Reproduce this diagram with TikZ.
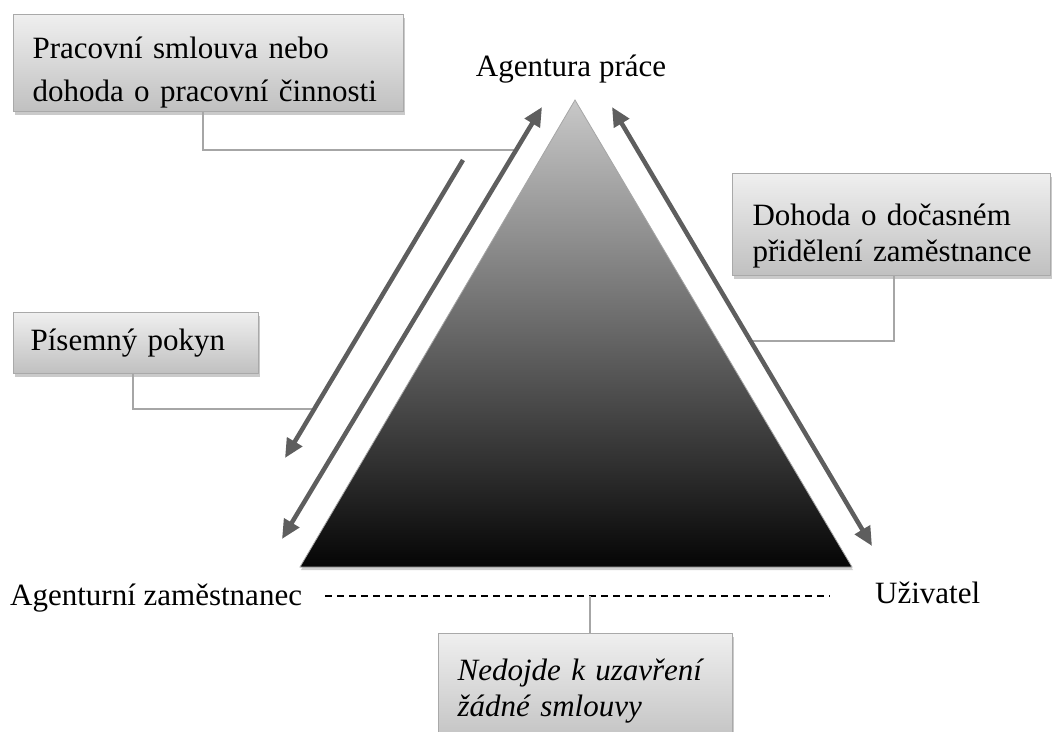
\documentclass[tikz,border=0pt]{standalone}
\usepackage{fontspec}
\setmainfont{Liberation Serif}
\usetikzlibrary{arrows.meta,shadows}
\definecolor{arrowgray}{HTML}{5E5E5E}
\definecolor{linegray}{HTML}{A6A6A6}
\definecolor{boxtop}{HTML}{EFEFEF}
\definecolor{boxbot}{HTML}{C0C0C0}
\definecolor{boxedge}{HTML}{A9A9A9}
\definecolor{tritop}{HTML}{C8C8C8}
\definecolor{tribot}{HTML}{050505}
\begin{document}
\begin{tikzpicture}[x=1pt,y=1pt,
  callout/.style={draw=boxedge, line width=1.2pt, top color=boxtop, bottom color=boxbot,
    anchor=north west, align=left, inner ysep=0pt,
    font=\fontsize{31}{36}\selectfont,
    drop shadow={shadow xshift=1pt, shadow yshift=-3pt, opacity=0.35, fill=black!60}},
  lbl/.style={font=\fontsize{31}{37}\selectfont, inner sep=0pt},
  conn/.style={draw=linegray, line width=1.6pt},
  arr/.style={draw=arrowgray, line width=4.5pt, arrows={-Triangle[length=19pt,width=17pt]}},
  darr/.style={draw=arrowgray, line width=4.5pt, arrows={Triangle[length=19pt,width=17pt]-Triangle[length=19pt,width=17pt]}},
  dashline/.style={draw=black, line width=1.6pt, dash pattern=on 7pt off 5pt}
]
\path[use as bounding box] (0,0) rectangle (1056,-731);
\clip (0,0) rectangle (1056,-731);

% triangle
\coordinate (apex) at (575,-100);
\coordinate (bl) at (300,-567);
\coordinate (br) at (852,-567);
\shade[top color=tritop, bottom color=tribot,
  drop shadow={shadow xshift=1pt, shadow yshift=-3pt, opacity=0.3, fill=black!60}]
  (apex) -- (bl) -- (br) -- cycle;
\draw[gray!70, line width=0.8pt] (apex) -- (bl) -- (br) -- cycle;

% labels
\node[lbl, anchor=base] (agp) at (571,-76) {Agentura práce};
\node[lbl, anchor=base west] (az) at (10,-605) {Agenturní zaměstnanec};
\node[lbl, anchor=base west] (uz) at (875,-603) {Uživatel};

% dashed line
\coordinate (dL) at (325,-596);
\coordinate (dR) at (830,-596);
\coordinate (dm) at (590,-596);
\draw[dashline] (dL) -- (dR);

% callouts
\node[callout, text width=352pt, inner xsep=19pt, minimum height=97pt,
  font=\fontsize{31}{43}\selectfont] (b1) at (13,-14)
  {\rule{0pt}{40pt}\mbox{Pracovní smlouva nebo}\\\mbox{dohoda o pracovní činnosti}};
\node[callout, text width=278pt, inner xsep=20pt, minimum height=102pt] (b2) at (732,-173)
  {\rule{0pt}{44pt}\mbox{Dohoda o dočasném}\\\mbox{přidělení zaměstnance}};
\node[callout, text width=211pt, inner xsep=17pt, minimum height=61pt] (b3) at (13,-312)
  {\mbox{Písemný pokyn}};
\node[callout, text width=256pt, inner xsep=19pt, minimum height=114pt,
  font=\fontsize{31}{36}\selectfont\itshape] (b4) at (438,-633)
  {\mbox{Nedojde k uzavření}\\\mbox{žádné smlouvy}};

% connector end points
\coordinate (c1) at (516,-150);
\coordinate (c2) at (748,-341);
\coordinate (c3) at (314,-409);
\draw[conn] ([xshift=190pt]b1.south west) |- (c1);
\draw[conn] ([xshift=162pt]b2.south west) |- (c2);
\draw[conn] ([xshift=120pt]b3.south west) |- (c3);
\draw[conn] (dm) -- (dm |- b4.north);

% arrows
\coordinate (o1) at (463,-160);
\coordinate (o2) at (285,-458);
\coordinate (i1) at (282,-539);
\coordinate (i2) at (542,-107);
\coordinate (r1) at (612,-107);
\coordinate (r2) at (872,-546);
\draw[arr] (o1) -- (o2);
\draw[darr] (i1) -- (i2);
\draw[darr] (r1) -- (r2);
\end{tikzpicture}
\end{document}
